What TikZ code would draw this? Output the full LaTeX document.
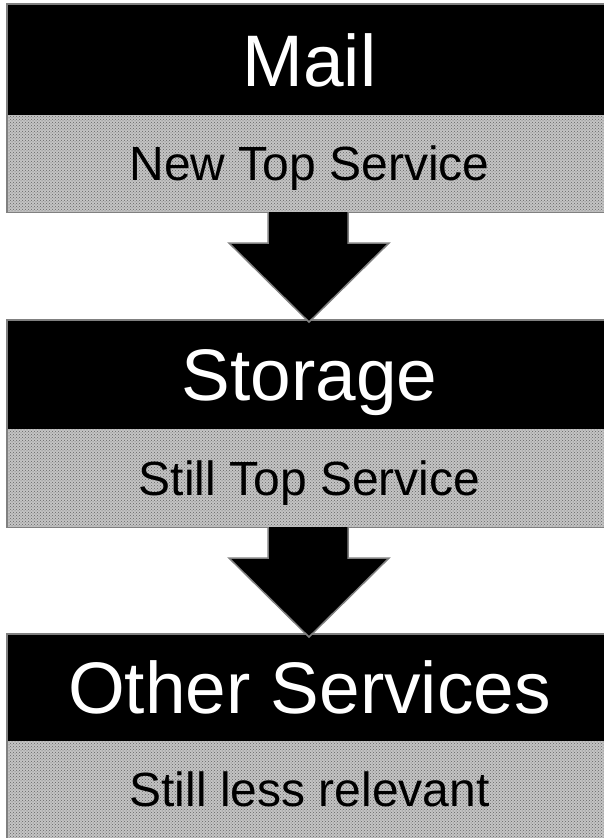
\documentclass[tikz,border=0pt]{standalone}
\usepackage{fontspec}
\setmainfont{Liberation Sans}
\usetikzlibrary{patterns}
\definecolor{edgegray}{RGB}{128,128,128}
\definecolor{lightpat}{RGB}{196,196,196}
\definecolor{darkpat}{RGB}{100,100,100}
\tikzset{
  headbox/.style={fill=black, draw=none, anchor=north west, inner sep=0pt, minimum width=605pt},
  subbox/.style={fill=lightpat, draw=none, anchor=north west, inner sep=0pt, minimum width=605pt,
    postaction={pattern=crosshatch dots, pattern color=darkpat}},
  frame/.style={draw=edgegray, line width=1.5pt},
  titletext/.style={text=white, anchor=base, inner sep=0pt, font=\fontsize{73}{80}\selectfont},
  subtext/.style={text=black, anchor=base, inner sep=0pt, font=\fontsize{48}{54}\selectfont},
  downarrow/.style={fill=black, draw=edgegray, line width=1.5pt, line join=miter},
}
\begin{document}
\begin{tikzpicture}[x=1pt,y=-1pt]
\useasboundingbox (0,0) rectangle (604,838);
\clip (0,0) rectangle (604,838);
% block 1
\node[headbox, minimum height=111pt] (h1) at (7,4) {};
\node[subbox, minimum height=97pt] (s1) at (7,115) {};
\draw[frame] (h1.north west) rectangle (s1.south east);
\node[titletext] (t1) at (309.5,86) {Mail};
\node[subtext] (u1) at (309.5,180) {New Top Service};
% block 2
\node[headbox, minimum height=109pt] (h2) at (7,320) {};
\node[subbox, minimum height=98pt] (s2) at (7,429) {};
\draw[frame] (h2.north west) rectangle (s2.south east);
\node[titletext] (t2) at (309.5,400) {Storage};
\node[subtext] (u2) at (309.5,495) {Still Top Service};
% block 3
\node[headbox, minimum height=107pt] (h3) at (7,634) {};
\node[subbox, minimum height=104pt] (s3) at (7,741) {};
\draw[frame] (h3.north west) rectangle (s3.south east);
\node[titletext] (t3) at (309.5,713) {Other Services};
\node[subtext] (u3) at (309.5,806) {Still less relevant};
% arrows
\draw[downarrow] (268,212) -- (268,243) -- (229,243) -- (309,322) -- (389,243) -- (348,243) -- (348,212);
\draw[downarrow] (268,527) -- (268,558) -- (229,558) -- (309,637) -- (389,558) -- (348,558) -- (348,527);
\end{tikzpicture}
\end{document}
